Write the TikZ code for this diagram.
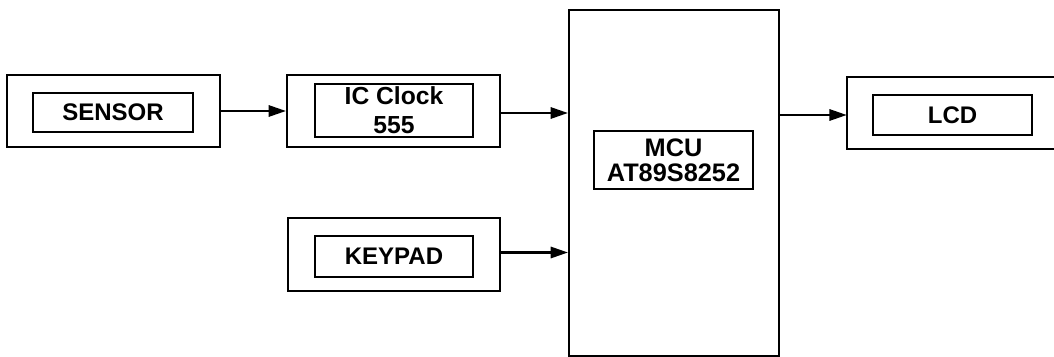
\documentclass[tikz,border=0pt]{standalone}
\usepackage{fontspec}
\setmainfont{Liberation Sans}
\usetikzlibrary{arrows.meta}
\tikzset{
  outerbox/.style={draw, line width=1.6pt, inner sep=0pt},
  innerbox/.style={draw, line width=1.6pt, inner sep=0pt, align=center,
    font=\fontsize{18}{20}\selectfont\bfseries},
  conn/.style={line width=1.6pt, -{Triangle[length=13pt,width=8.5pt]}}
}
\begin{document}
\begin{tikzpicture}[x=0.75pt,y=-0.75pt]
\useasboundingbox (0,0) rectangle (1054,357);
% outer boxes
\node[outerbox, minimum width=213*0.75pt, minimum height=72*0.75pt] (sensor) at (113.5,111) {};
\node[outerbox, minimum width=213*0.75pt, minimum height=72*0.75pt] (ic) at (393.5,111) {};
\node[outerbox, minimum width=212*0.75pt, minimum height=73*0.75pt] (keypad) at (394,254.5) {};
\node[outerbox, minimum width=210*0.75pt, minimum height=346*0.75pt] (mcu) at (674,183) {};
\node[inner sep=0pt, minimum width=207*0.75pt, minimum height=72*0.75pt] (lcd) at (950.5,113) {};
\draw[line width=1.6pt] (lcd.north east) -- (lcd.north west) -- (lcd.south west) -- (lcd.south east);
% inner boxes
\node[innerbox, minimum width=160*0.75pt, minimum height=39*0.75pt] (sensorin) at (113,112.5) {SENSOR};
\node[innerbox, minimum width=158*0.75pt, minimum height=53*0.75pt, font=\fontsize{18.5}{22}\selectfont\bfseries] (icin) at (394,110.5) {IC Clock\\555};
\node[innerbox, minimum width=158*0.75pt, minimum height=41*0.75pt] (keypadin) at (394,256.5) {KEYPAD};
\node[innerbox, minimum width=159*0.75pt, minimum height=58*0.75pt, font=\fontsize{19}{19}\selectfont\bfseries] (mcuin) at (673.5,160) {MCU\\AT89S8252};
\node[innerbox, minimum width=159*0.75pt, minimum height=40*0.75pt] (lcdin) at (952.5,115) {LCD};
% connectors
\draw[conn] (sensor.east) -- (ic.west);
\draw[conn] ([yshift=-2*0.75pt]ic.east) -- ([yshift=-2*0.75pt]ic.east -| mcu.west);
\draw[conn] ([yshift=2*0.75pt]keypad.east) -- ([yshift=2*0.75pt]keypad.east -| mcu.west);
\draw[conn] ([yshift=-2*0.75pt]mcu.east |- lcd.west) -- ([yshift=-2*0.75pt]lcd.west);
\end{tikzpicture}
\end{document}
